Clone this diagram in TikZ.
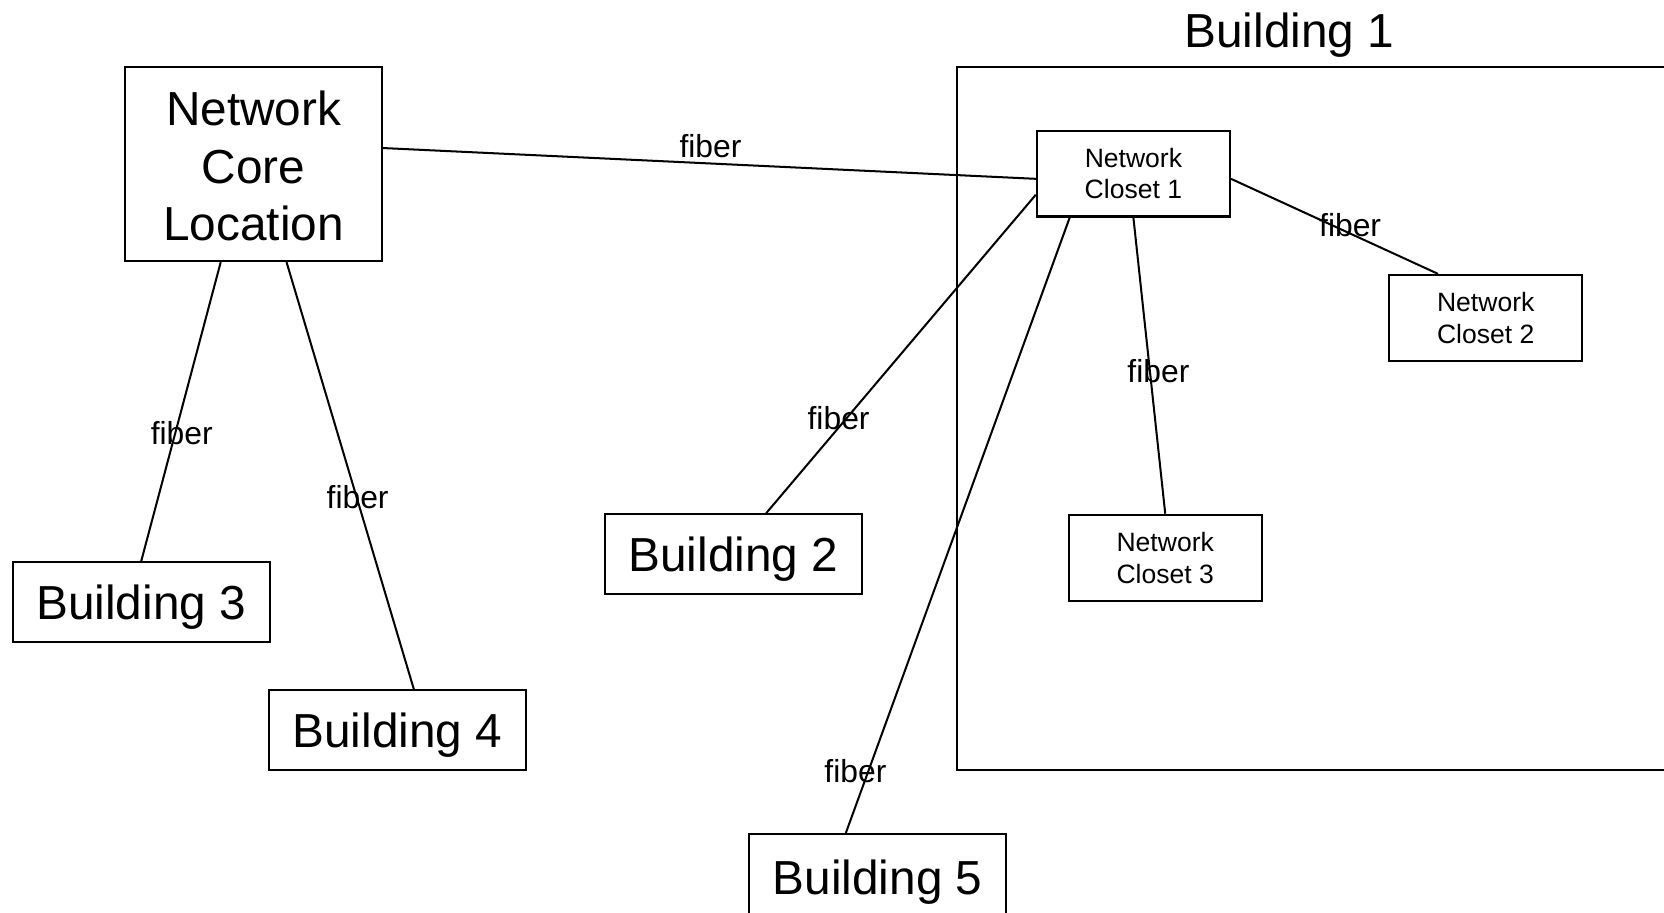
\documentclass[tikz,border=0pt]{standalone}
\usepackage{fontspec}
\setmainfont{Liberation Sans}
\begin{document}
\begin{tikzpicture}[x=1pt,y=-1pt,
  box/.style={draw,line width=1.9pt,inner sep=0pt,align=center},
  bigbox/.style={box,font=\fontsize{45}{54}\selectfont},
  smallbox/.style={box,minimum width=182pt,minimum height=81pt,font=\fontsize{25}{30}\selectfont},
  bldg/.style={bigbox,minimum width=242pt,minimum height=75pt,text depth=0pt},
  link/.style={line width=1.9pt},
  lbl/.style={font=\fontsize{30}{36}\selectfont,inner sep=0pt}]
\useasboundingbox (0,0) rectangle (1568,860);
% container
\node[draw,line width=1.9pt,minimum width=680pt,minimum height=663pt,inner sep=0pt] (b1) at (1242,394.5) {};
\node[font=\fontsize{45}{54}\selectfont,inner sep=0pt,text depth=0pt] (b1t) at (1215,28) {Building 1};
% nodes
\node[bigbox,minimum width=242pt,minimum height=183pt] (core) at (239,154.5) {\raisebox{-2pt}[\height][\depth]{\parbox{240pt}{\centering Network\\Core\\Location}}};
\node[bldg] (bd3) at (133,567.5) {Building 3};
\node[bldg] (bd4) at (374.5,688) {Building 4};
\node[bldg] (bd2) at (691,522) {Building 2};
\node[bldg,minimum height=78pt] (bd5) at (827,825) {\raisebox{-3pt}{Building 5}};
\node[smallbox] (nc1) at (1068,163.5) {Network\\Closet 1};
\node[smallbox] (nc2) at (1400,299.5) {Network\\Closet 2};
\node[smallbox] (nc3) at (1098,525.5) {Network\\Closet 3};
% links
\draw[link] ([yshift=15pt]core.east) -- node[lbl,pos=0.5,above=4pt,xshift=1pt]{fiber} ([yshift=-5pt]nc1.west);
\draw[link] ([xshift=-31pt]core.south) -- node[lbl,pos=0.57,xshift=6pt]{fiber} ([yshift=0pt]bd3.north);
\draw[link] ([xshift=31pt]core.south) -- node[lbl,pos=0.55,xshift=1pt]{fiber} ([xshift=15.5pt]bd4.north);
\draw[link] ([yshift=-20pt]nc1.west) -- node[lbl,pos=0.7,xshift=-8pt]{fiber} ([xshift=31pt]bd2.north);
\draw[link] ([xshift=-60pt]nc1.south) -- node[lbl,pos=0.9,xshift=-12pt]{fiber} ([xshift=-30pt]bd5.north);
\draw[link] (nc1.south) -- node[lbl,pos=0.52,xshift=8pt]{fiber} (nc3.north);
\draw[link] ([yshift=-5pt]nc1.east) -- node[lbl,pos=0.55,xshift=5pt,yshift=6pt]{fiber} ([xshift=-45pt]nc2.north);
\end{tikzpicture}
\end{document}
